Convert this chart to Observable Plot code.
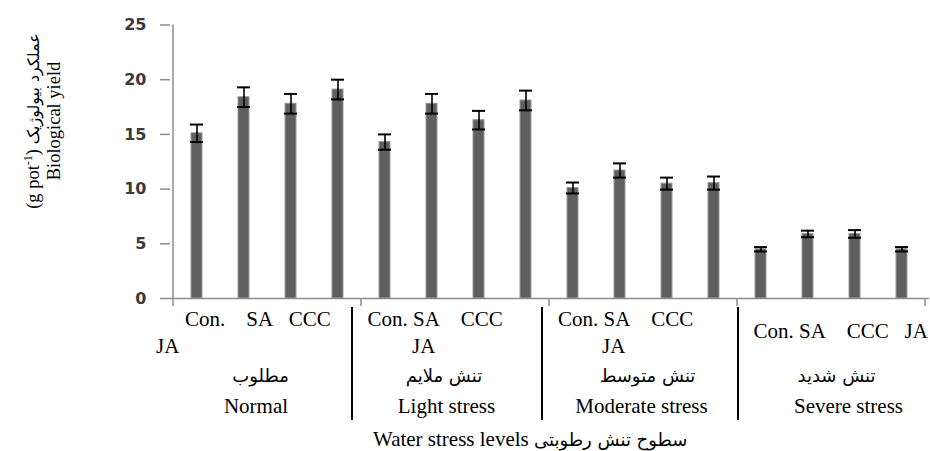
<!DOCTYPE html>
<html>
<head>
<meta charset="utf-8">
<script src="https://cdn.jsdelivr.net/npm/d3@7"></script>
<script src="https://cdn.jsdelivr.net/npm/@observablehq/plot@0.6"></script>
<style>
  html, body { margin: 0; padding: 0; background: #fff; }
  #chart svg { display: block; }
</style>
</head>
<body>
<div id="chart"></div>
<script>
// ---- data ----
const levels = ["Normal", "Light stress", "Moderate stress", "Severe stress"];
const levelsFa = ["مطلوب", "تنش ملایم", "تنش متوسط", "تنش شدید"];
const treatments = ["Con.", "SA", "CCC", "JA"];
const normalYield   = [15.1, 18.4, 17.8, 19.1];
const lightYield    = [14.3, 17.8, 16.3, 18.1];
const moderateYield = [10.1, 11.7, 10.5, 10.55];
const severeYield   = [4.5, 5.9, 5.9, 4.5];
const normalErr   = [0.8, 0.9, 0.9, 0.9];
const lightErr    = [0.7, 0.9, 0.85, 0.9];
const moderateErr = [0.5, 0.65, 0.55, 0.6];
const severeErr   = [0.2, 0.3, 0.35, 0.2];
const yTicks = [0, 5, 10, 15, 20, 25];
const NB = "\u00a0";
const treatmentLines = [
  ["Con." + NB.repeat(4) + "SA" + NB.repeat(3) + "CCC", "JA"],
  ["Con." + NB + "SA" + NB.repeat(4) + "CCC", "JA"],
  ["Con." + NB + "SA" + NB.repeat(4) + "CCC", "JA"],
  ["Con." + NB + "SA" + NB.repeat(4) + "CCC" + NB.repeat(3) + "JA"]
];
const xTitleEn = "Water stress levels";
const xTitleFa = "سطوح تنش رطوبتی";
const yTitleEn = "Biological yield";
const yTitleFa = "عملکرد بیولوژیک";
const yUnitPre = "(g pot";
const yUnitSup = "-1";
const yUnitPost = ")";

const yields = [normalYield, lightYield, moderateYield, severeYield];
const errs = [normalErr, lightErr, moderateErr, severeErr];
const data = [];
levels.forEach((lv, i) => treatments.forEach((t, j) => {
  data.push({key: lv + "|" + t, level: lv, treatment: t, value: yields[i][j], err: errs[i][j]});
}));
const keys = data.map(d => d.key);

// ---- chart ----
const axisGray = "#8c8c8c";
const chart = Plot.plot({
  width: 930,
  height: 451,
  marginLeft: 170,
  marginRight: 1,
  marginTop: 24.5,
  marginBottom: 153,
  style: {background: "#fff", fontFamily: "'Liberation Serif', serif"},
  x: {domain: keys, paddingInner: 0.76, paddingOuter: 0.38, axis: null},
  y: {domain: [0, 25], axis: null},
  marks: [
    Plot.barY(data, {x: "key", y: "value", fill: "#5f5f5f", stroke: "#9a9a9a", strokeWidth: 1}),
    Plot.ruleX(data, {x: "key", y1: d => d.value - d.err, y2: d => d.value + d.err, stroke: "#000", strokeWidth: 1.6}),
    Plot.tickY(data, {x: "key", y: d => d.value + d.err, stroke: "#000", strokeWidth: 2, insetLeft: -1, insetRight: -1}),
    Plot.tickY(data, {x: "key", y: d => d.value - d.err, stroke: "#000", strokeWidth: 2, insetLeft: -1, insetRight: -1}),
    Plot.ruleY([0], {stroke: axisGray, strokeWidth: 1.5}),
    Plot.axisY({ticks: yTicks, tickSize: 10, tickPadding: 14, stroke: axisGray, strokeWidth: 1.5,
      fill: "#3a3a3a", fontSize: 16, fontWeight: "bold", fontFamily: "'DejaVu Sans', sans-serif", label: null})
  ]
});
document.getElementById("chart").appendChild(chart);

// ---- annotations positioned from the Plot scales ----
const xs = chart.scale("x"), ys = chart.scale("y");
const step = xs.step, bw = xs.bandwidth;
const y0 = ys.apply(0);
const svg = d3.select(chart);
const g = svg.append("g").attr("text-anchor", "start").attr("fill", "#000");
const groupLeft = i => i < levels.length
  ? xs.apply(levels[i] + "|" + treatments[0]) + bw / 2 - step / 2
  : xs.apply(levels[levels.length - 1] + "|" + treatments[treatments.length - 1]) + bw / 2 + step / 2;

// y axis line
g.append("line").attr("x1", groupLeft(0)).attr("x2", groupLeft(0))
  .attr("y1", ys.apply(25)).attr("y2", y0 + 8)
  .attr("stroke", axisGray).attr("stroke-width", 1.5);
// group boundary ticks
for (let i = 1; i <= levels.length; i++) {
  const x = groupLeft(i);
  g.append("line").attr("x1", x).attr("x2", x).attr("y1", y0).attr("y2", y0 + 8)
    .attr("stroke", axisGray).attr("stroke-width", 1.5);
}
// separators between label boxes
const sepOffsets = [-9, -7, 1];
for (let i = 1; i < levels.length; i++) {
  const x = groupLeft(i) + sepOffsets[i - 1];
  g.append("line").attr("x1", x).attr("x2", x).attr("y1", y0 + 9).attr("y2", y0 + 122)
    .attr("stroke", "#000").attr("stroke-width", 2);
}
const serif = "'Liberation Serif', 'Times New Roman', serif";
const arabicFont = "'DejaVu Sans', sans-serif";
const line1Off = [12, 6.5, 9, 16.5];
const line2Off = [-17, 51, 53, 0];
const faCenter = [87.5, 83, 98.5, 99.5];
const enCenter = [83, 85.5, 92.5, 111.5];
levels.forEach((lv, i) => {
  const L = groupLeft(i);
  const lines = treatmentLines[i];
  if (lines.length === 2) {
    g.append("text").attr("x", L + line1Off[i]).attr("y", y0 + 28).attr("text-anchor", "start").text(lines[0])
      .attr("font-family", serif).attr("font-size", 21);
    g.append("text").attr("x", L + line2Off[i]).attr("y", y0 + 55).attr("text-anchor", "start").text(lines[1])
      .attr("font-family", serif).attr("font-size", 21);
  } else {
    g.append("text").attr("x", L + line1Off[i]).attr("y", y0 + 40).attr("text-anchor", "start").text(lines[0])
      .attr("font-family", serif).attr("font-size", 21);
  }
  g.append("text").attr("x", L + faCenter[i]).attr("y", y0 + 84).attr("text-anchor", "middle")
    .attr("direction", "rtl").text(levelsFa[i])
    .attr("font-family", arabicFont).attr("font-size", 18);
  g.append("text").attr("x", L + enCenter[i]).attr("y", y0 + 115).attr("text-anchor", "middle")
    .text(lv).attr("font-family", serif).attr("font-size", 21);
});
// x title
const xt = g.append("text").attr("x", 373).attr("y", 446).attr("text-anchor", "start").attr("direction", "ltr")
  .attr("font-family", serif).attr("font-size", 21);
xt.append("tspan").text(xTitleEn + " ");
xt.append("tspan").attr("font-family", arabicFont).attr("font-size", 18).text(xTitleFa);

// y title (rotated, two lines)
g.append("text").attr("transform", "translate(60,121) rotate(-90)").attr("text-anchor", "middle")
  .attr("font-family", serif).attr("font-size", 18.5).text(yTitleEn);
const yt = g.append("text").attr("transform", "translate(39,121) rotate(-90)").attr("text-anchor", "middle")
  .attr("direction", "ltr").attr("font-family", serif).attr("font-size", 18.5);
yt.append("tspan").text(yUnitPre);
yt.append("tspan").attr("font-size", 12).attr("baseline-shift", "super").text(yUnitSup);
yt.append("tspan").text(yUnitPost + " ");
yt.append("tspan").attr("font-family", arabicFont).attr("font-size", 16).text(yTitleFa);
</script>
</body>
</html>
